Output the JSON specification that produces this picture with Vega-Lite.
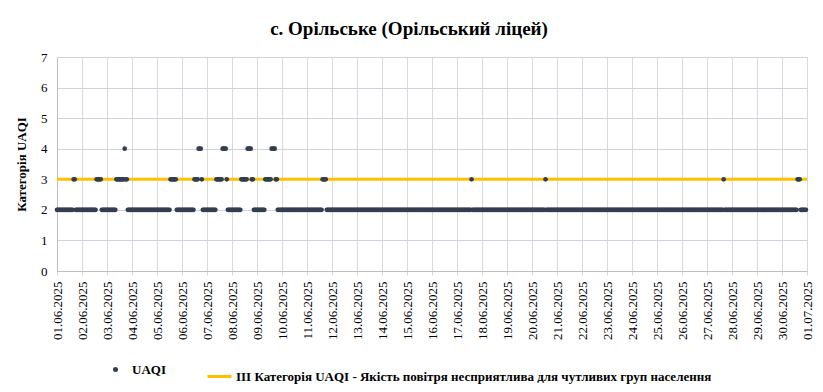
{
"$schema":"https://vega.github.io/schema/vega-lite/v6.json",
"width":750,"height":214,
"autosize":{"type":"none"},
"padding":{"left":57,"top":57,"right":16,"bottom":121},
"background":"#ffffff",
"config":{"view":{"stroke":null},"font":"'Liberation Serif', 'Times New Roman', serif","axis":{"labelFont":"'Liberation Serif', 'Times New Roman', serif","titleFont":"'Liberation Serif', 'Times New Roman', serif"}},
"title":{"text":"с. Орільське (Орільський ліцей)","font":"'Liberation Serif', 'Times New Roman', serif","fontSize":19,"fontWeight":"bold","color":"#000000","anchor":"middle","dx":-23,"offset":12},
"datasets":{
"lim":[{"t":"2025-06-01T00:00","v":3},{"t":"2025-07-01T00:00","v":3}],
"pts":[
{"t":"2025-06-01T00:00","v":2},{"t":"2025-06-01T01:00","v":2},{"t":"2025-06-01T02:00","v":2},{"t":"2025-06-01T03:00","v":2},{"t":"2025-06-01T04:00","v":2},{"t":"2025-06-01T05:00","v":2},{"t":"2025-06-01T06:00","v":2},{"t":"2025-06-01T07:00","v":2},{"t":"2025-06-01T08:00","v":2},{"t":"2025-06-01T09:00","v":2},{"t":"2025-06-01T10:00","v":2},{"t":"2025-06-01T11:00","v":2},{"t":"2025-06-01T12:00","v":2},{"t":"2025-06-01T13:00","v":2},{"t":"2025-06-01T14:00","v":2},{"t":"2025-06-01T15:00","v":2},{"t":"2025-06-01T16:00","v":3},{"t":"2025-06-01T17:00","v":3},{"t":"2025-06-01T18:00","v":2},{"t":"2025-06-01T19:00","v":2},{"t":"2025-06-01T20:00","v":2},{"t":"2025-06-01T21:00","v":2},{"t":"2025-06-01T22:00","v":2},{"t":"2025-06-01T23:00","v":2},
{"t":"2025-06-02T00:00","v":2},{"t":"2025-06-02T01:00","v":2},{"t":"2025-06-02T02:00","v":2},{"t":"2025-06-02T03:00","v":2},{"t":"2025-06-02T04:00","v":2},{"t":"2025-06-02T05:00","v":2},{"t":"2025-06-02T06:00","v":2},{"t":"2025-06-02T07:00","v":2},{"t":"2025-06-02T08:00","v":2},{"t":"2025-06-02T09:00","v":2},{"t":"2025-06-02T10:00","v":2},{"t":"2025-06-02T11:00","v":2},{"t":"2025-06-02T12:00","v":2},{"t":"2025-06-02T13:00","v":2},{"t":"2025-06-02T14:00","v":3},{"t":"2025-06-02T15:00","v":3},{"t":"2025-06-02T16:00","v":3},{"t":"2025-06-02T17:00","v":3},{"t":"2025-06-02T18:00","v":3},{"t":"2025-06-02T19:00","v":2},{"t":"2025-06-02T20:00","v":2},{"t":"2025-06-02T21:00","v":2},{"t":"2025-06-02T22:00","v":2},{"t":"2025-06-02T23:00","v":2},
{"t":"2025-06-03T00:00","v":2},{"t":"2025-06-03T01:00","v":2},{"t":"2025-06-03T02:00","v":2},{"t":"2025-06-03T03:00","v":2},{"t":"2025-06-03T04:00","v":2},{"t":"2025-06-03T05:00","v":2},{"t":"2025-06-03T06:00","v":2},{"t":"2025-06-03T07:00","v":2},{"t":"2025-06-03T08:00","v":2},{"t":"2025-06-03T09:00","v":3},{"t":"2025-06-03T10:00","v":3},{"t":"2025-06-03T11:00","v":3},{"t":"2025-06-03T12:00","v":3},{"t":"2025-06-03T13:00","v":3},{"t":"2025-06-03T14:00","v":3},{"t":"2025-06-03T15:00","v":3},{"t":"2025-06-03T16:00","v":3},{"t":"2025-06-03T17:00","v":4},{"t":"2025-06-03T18:00","v":3},{"t":"2025-06-03T19:00","v":3},{"t":"2025-06-03T20:00","v":2},{"t":"2025-06-03T21:00","v":2},{"t":"2025-06-03T22:00","v":2},{"t":"2025-06-03T23:00","v":2},
{"t":"2025-06-04T00:00","v":2},{"t":"2025-06-04T01:00","v":2},{"t":"2025-06-04T02:00","v":2},{"t":"2025-06-04T03:00","v":2},{"t":"2025-06-04T04:00","v":2},{"t":"2025-06-04T05:00","v":2},{"t":"2025-06-04T06:00","v":2},{"t":"2025-06-04T07:00","v":2},{"t":"2025-06-04T08:00","v":2},{"t":"2025-06-04T09:00","v":2},{"t":"2025-06-04T10:00","v":2},{"t":"2025-06-04T11:00","v":2},{"t":"2025-06-04T12:00","v":2},{"t":"2025-06-04T13:00","v":2},{"t":"2025-06-04T14:00","v":2},{"t":"2025-06-04T15:00","v":2},{"t":"2025-06-04T16:00","v":2},{"t":"2025-06-04T17:00","v":2},{"t":"2025-06-04T18:00","v":2},{"t":"2025-06-04T19:00","v":2},{"t":"2025-06-04T20:00","v":2},{"t":"2025-06-04T21:00","v":2},{"t":"2025-06-04T22:00","v":2},{"t":"2025-06-04T23:00","v":2},
{"t":"2025-06-05T00:00","v":2},{"t":"2025-06-05T01:00","v":2},{"t":"2025-06-05T02:00","v":2},{"t":"2025-06-05T03:00","v":2},{"t":"2025-06-05T04:00","v":2},{"t":"2025-06-05T05:00","v":2},{"t":"2025-06-05T06:00","v":2},{"t":"2025-06-05T07:00","v":2},{"t":"2025-06-05T08:00","v":2},{"t":"2025-06-05T09:00","v":2},{"t":"2025-06-05T10:00","v":2},{"t":"2025-06-05T11:00","v":2},{"t":"2025-06-05T12:00","v":2},{"t":"2025-06-05T13:00","v":3},{"t":"2025-06-05T14:00","v":3},{"t":"2025-06-05T15:00","v":3},{"t":"2025-06-05T16:00","v":3},{"t":"2025-06-05T17:00","v":3},{"t":"2025-06-05T18:00","v":3},{"t":"2025-06-05T19:00","v":2},{"t":"2025-06-05T20:00","v":2},{"t":"2025-06-05T21:00","v":2},{"t":"2025-06-05T22:00","v":2},{"t":"2025-06-05T23:00","v":2},
{"t":"2025-06-06T00:00","v":2},{"t":"2025-06-06T01:00","v":2},{"t":"2025-06-06T02:00","v":2},{"t":"2025-06-06T03:00","v":2},{"t":"2025-06-06T04:00","v":2},{"t":"2025-06-06T05:00","v":2},{"t":"2025-06-06T06:00","v":2},{"t":"2025-06-06T07:00","v":2},{"t":"2025-06-06T08:00","v":2},{"t":"2025-06-06T09:00","v":2},{"t":"2025-06-06T10:00","v":2},{"t":"2025-06-06T11:00","v":2},{"t":"2025-06-06T12:00","v":3},{"t":"2025-06-06T13:00","v":3},{"t":"2025-06-06T14:00","v":3},{"t":"2025-06-06T15:00","v":3},{"t":"2025-06-06T16:00","v":4},{"t":"2025-06-06T17:00","v":4},{"t":"2025-06-06T18:00","v":4},{"t":"2025-06-06T19:00","v":3},{"t":"2025-06-06T20:00","v":2},{"t":"2025-06-06T21:00","v":2},{"t":"2025-06-06T22:00","v":2},{"t":"2025-06-06T23:00","v":2},
{"t":"2025-06-07T00:00","v":2},{"t":"2025-06-07T01:00","v":2},{"t":"2025-06-07T02:00","v":2},{"t":"2025-06-07T03:00","v":2},{"t":"2025-06-07T04:00","v":2},{"t":"2025-06-07T05:00","v":2},{"t":"2025-06-07T06:00","v":2},{"t":"2025-06-07T07:00","v":2},{"t":"2025-06-07T08:00","v":2},{"t":"2025-06-07T09:00","v":3},{"t":"2025-06-07T10:00","v":3},{"t":"2025-06-07T11:00","v":3},{"t":"2025-06-07T12:00","v":3},{"t":"2025-06-07T13:00","v":3},{"t":"2025-06-07T14:00","v":3},{"t":"2025-06-07T15:00","v":4},{"t":"2025-06-07T16:00","v":4},{"t":"2025-06-07T17:00","v":4},{"t":"2025-06-07T18:00","v":4},{"t":"2025-06-07T19:00","v":3},{"t":"2025-06-07T20:00","v":2},{"t":"2025-06-07T21:00","v":2},{"t":"2025-06-07T22:00","v":2},{"t":"2025-06-07T23:00","v":2},
{"t":"2025-06-08T00:00","v":2},{"t":"2025-06-08T01:00","v":2},{"t":"2025-06-08T02:00","v":2},{"t":"2025-06-08T03:00","v":2},{"t":"2025-06-08T04:00","v":2},{"t":"2025-06-08T05:00","v":2},{"t":"2025-06-08T06:00","v":2},{"t":"2025-06-08T07:00","v":2},{"t":"2025-06-08T08:00","v":2},{"t":"2025-06-08T09:00","v":3},{"t":"2025-06-08T10:00","v":3},{"t":"2025-06-08T11:00","v":3},{"t":"2025-06-08T12:00","v":3},{"t":"2025-06-08T13:00","v":3},{"t":"2025-06-08T14:00","v":3},{"t":"2025-06-08T15:00","v":4},{"t":"2025-06-08T16:00","v":4},{"t":"2025-06-08T17:00","v":4},{"t":"2025-06-08T18:00","v":4},{"t":"2025-06-08T19:00","v":3},{"t":"2025-06-08T20:00","v":3},{"t":"2025-06-08T21:00","v":2},{"t":"2025-06-08T22:00","v":2},{"t":"2025-06-08T23:00","v":2},
{"t":"2025-06-09T00:00","v":2},{"t":"2025-06-09T01:00","v":2},{"t":"2025-06-09T02:00","v":2},{"t":"2025-06-09T03:00","v":2},{"t":"2025-06-09T04:00","v":2},{"t":"2025-06-09T05:00","v":2},{"t":"2025-06-09T06:00","v":2},{"t":"2025-06-09T07:00","v":2},{"t":"2025-06-09T08:00","v":3},{"t":"2025-06-09T09:00","v":3},{"t":"2025-06-09T10:00","v":3},{"t":"2025-06-09T11:00","v":3},{"t":"2025-06-09T12:00","v":3},{"t":"2025-06-09T13:00","v":3},{"t":"2025-06-09T14:00","v":4},{"t":"2025-06-09T15:00","v":4},{"t":"2025-06-09T16:00","v":4},{"t":"2025-06-09T17:00","v":4},{"t":"2025-06-09T18:00","v":3},{"t":"2025-06-09T19:00","v":3},{"t":"2025-06-09T20:00","v":2},{"t":"2025-06-09T21:00","v":2},{"t":"2025-06-09T22:00","v":2},{"t":"2025-06-09T23:00","v":2},
{"t":"2025-06-10T00:00","v":2},{"t":"2025-06-10T01:00","v":2},{"t":"2025-06-10T02:00","v":2},{"t":"2025-06-10T03:00","v":2},{"t":"2025-06-10T04:00","v":2},{"t":"2025-06-10T05:00","v":2},{"t":"2025-06-10T06:00","v":2},{"t":"2025-06-10T07:00","v":2},{"t":"2025-06-10T08:00","v":2},{"t":"2025-06-10T09:00","v":2},{"t":"2025-06-10T10:00","v":2},{"t":"2025-06-10T11:00","v":2},{"t":"2025-06-10T12:00","v":2},{"t":"2025-06-10T13:00","v":2},{"t":"2025-06-10T14:00","v":2},{"t":"2025-06-10T15:00","v":2},{"t":"2025-06-10T16:00","v":2},{"t":"2025-06-10T17:00","v":2},{"t":"2025-06-10T18:00","v":2},{"t":"2025-06-10T19:00","v":2},{"t":"2025-06-10T20:00","v":2},{"t":"2025-06-10T21:00","v":2},{"t":"2025-06-10T22:00","v":2},{"t":"2025-06-10T23:00","v":2},
{"t":"2025-06-11T00:00","v":2},{"t":"2025-06-11T01:00","v":2},{"t":"2025-06-11T02:00","v":2},{"t":"2025-06-11T03:00","v":2},{"t":"2025-06-11T04:00","v":2},{"t":"2025-06-11T05:00","v":2},{"t":"2025-06-11T06:00","v":2},{"t":"2025-06-11T07:00","v":2},{"t":"2025-06-11T08:00","v":2},{"t":"2025-06-11T09:00","v":2},{"t":"2025-06-11T10:00","v":2},{"t":"2025-06-11T11:00","v":2},{"t":"2025-06-11T12:00","v":2},{"t":"2025-06-11T13:00","v":2},{"t":"2025-06-11T14:00","v":2},{"t":"2025-06-11T15:00","v":3},{"t":"2025-06-11T16:00","v":3},{"t":"2025-06-11T17:00","v":3},{"t":"2025-06-11T18:00","v":3},{"t":"2025-06-11T19:00","v":2},{"t":"2025-06-11T20:00","v":2},{"t":"2025-06-11T21:00","v":2},{"t":"2025-06-11T22:00","v":2},{"t":"2025-06-11T23:00","v":2},
{"t":"2025-06-12T00:00","v":2},{"t":"2025-06-12T01:00","v":2},{"t":"2025-06-12T02:00","v":2},{"t":"2025-06-12T03:00","v":2},{"t":"2025-06-12T04:00","v":2},{"t":"2025-06-12T05:00","v":2},{"t":"2025-06-12T06:00","v":2},{"t":"2025-06-12T07:00","v":2},{"t":"2025-06-12T08:00","v":2},{"t":"2025-06-12T09:00","v":2},{"t":"2025-06-12T10:00","v":2},{"t":"2025-06-12T11:00","v":2},{"t":"2025-06-12T12:00","v":2},{"t":"2025-06-12T13:00","v":2},{"t":"2025-06-12T14:00","v":2},{"t":"2025-06-12T15:00","v":2},{"t":"2025-06-12T16:00","v":2},{"t":"2025-06-12T17:00","v":2},{"t":"2025-06-12T18:00","v":2},{"t":"2025-06-12T19:00","v":2},{"t":"2025-06-12T20:00","v":2},{"t":"2025-06-12T21:00","v":2},{"t":"2025-06-12T22:00","v":2},{"t":"2025-06-12T23:00","v":2},
{"t":"2025-06-13T00:00","v":2},{"t":"2025-06-13T01:00","v":2},{"t":"2025-06-13T02:00","v":2},{"t":"2025-06-13T03:00","v":2},{"t":"2025-06-13T04:00","v":2},{"t":"2025-06-13T05:00","v":2},{"t":"2025-06-13T06:00","v":2},{"t":"2025-06-13T07:00","v":2},{"t":"2025-06-13T08:00","v":2},{"t":"2025-06-13T09:00","v":2},{"t":"2025-06-13T10:00","v":2},{"t":"2025-06-13T11:00","v":2},{"t":"2025-06-13T12:00","v":2},{"t":"2025-06-13T13:00","v":2},{"t":"2025-06-13T14:00","v":2},{"t":"2025-06-13T15:00","v":2},{"t":"2025-06-13T16:00","v":2},{"t":"2025-06-13T17:00","v":2},{"t":"2025-06-13T18:00","v":2},{"t":"2025-06-13T19:00","v":2},{"t":"2025-06-13T20:00","v":2},{"t":"2025-06-13T21:00","v":2},{"t":"2025-06-13T22:00","v":2},{"t":"2025-06-13T23:00","v":2},
{"t":"2025-06-14T00:00","v":2},{"t":"2025-06-14T01:00","v":2},{"t":"2025-06-14T02:00","v":2},{"t":"2025-06-14T03:00","v":2},{"t":"2025-06-14T04:00","v":2},{"t":"2025-06-14T05:00","v":2},{"t":"2025-06-14T06:00","v":2},{"t":"2025-06-14T07:00","v":2},{"t":"2025-06-14T08:00","v":2},{"t":"2025-06-14T09:00","v":2},{"t":"2025-06-14T10:00","v":2},{"t":"2025-06-14T11:00","v":2},{"t":"2025-06-14T12:00","v":2},{"t":"2025-06-14T13:00","v":2},{"t":"2025-06-14T14:00","v":2},{"t":"2025-06-14T15:00","v":2},{"t":"2025-06-14T16:00","v":2},{"t":"2025-06-14T17:00","v":2},{"t":"2025-06-14T18:00","v":2},{"t":"2025-06-14T19:00","v":2},{"t":"2025-06-14T20:00","v":2},{"t":"2025-06-14T21:00","v":2},{"t":"2025-06-14T22:00","v":2},{"t":"2025-06-14T23:00","v":2},
{"t":"2025-06-15T00:00","v":2},{"t":"2025-06-15T01:00","v":2},{"t":"2025-06-15T02:00","v":2},{"t":"2025-06-15T03:00","v":2},{"t":"2025-06-15T04:00","v":2},{"t":"2025-06-15T05:00","v":2},{"t":"2025-06-15T06:00","v":2},{"t":"2025-06-15T07:00","v":2},{"t":"2025-06-15T08:00","v":2},{"t":"2025-06-15T09:00","v":2},{"t":"2025-06-15T10:00","v":2},{"t":"2025-06-15T11:00","v":2},{"t":"2025-06-15T12:00","v":2},{"t":"2025-06-15T13:00","v":2},{"t":"2025-06-15T14:00","v":2},{"t":"2025-06-15T15:00","v":2},{"t":"2025-06-15T16:00","v":2},{"t":"2025-06-15T17:00","v":2},{"t":"2025-06-15T18:00","v":2},{"t":"2025-06-15T19:00","v":2},{"t":"2025-06-15T20:00","v":2},{"t":"2025-06-15T21:00","v":2},{"t":"2025-06-15T22:00","v":2},{"t":"2025-06-15T23:00","v":2},
{"t":"2025-06-16T00:00","v":2},{"t":"2025-06-16T01:00","v":2},{"t":"2025-06-16T02:00","v":2},{"t":"2025-06-16T03:00","v":2},{"t":"2025-06-16T04:00","v":2},{"t":"2025-06-16T05:00","v":2},{"t":"2025-06-16T06:00","v":2},{"t":"2025-06-16T07:00","v":2},{"t":"2025-06-16T08:00","v":2},{"t":"2025-06-16T09:00","v":2},{"t":"2025-06-16T10:00","v":2},{"t":"2025-06-16T11:00","v":2},{"t":"2025-06-16T12:00","v":2},{"t":"2025-06-16T13:00","v":2},{"t":"2025-06-16T14:00","v":2},{"t":"2025-06-16T15:00","v":2},{"t":"2025-06-16T16:00","v":2},{"t":"2025-06-16T17:00","v":2},{"t":"2025-06-16T18:00","v":2},{"t":"2025-06-16T19:00","v":2},{"t":"2025-06-16T20:00","v":2},{"t":"2025-06-16T21:00","v":2},{"t":"2025-06-16T22:00","v":2},{"t":"2025-06-16T23:00","v":2},
{"t":"2025-06-17T00:00","v":2},{"t":"2025-06-17T01:00","v":2},{"t":"2025-06-17T02:00","v":2},{"t":"2025-06-17T03:00","v":2},{"t":"2025-06-17T04:00","v":2},{"t":"2025-06-17T05:00","v":2},{"t":"2025-06-17T06:00","v":2},{"t":"2025-06-17T07:00","v":2},{"t":"2025-06-17T08:00","v":2},{"t":"2025-06-17T09:00","v":2},{"t":"2025-06-17T10:00","v":2},{"t":"2025-06-17T11:00","v":2},{"t":"2025-06-17T12:00","v":2},{"t":"2025-06-17T13:00","v":2},{"t":"2025-06-17T14:00","v":3},{"t":"2025-06-17T15:00","v":2},{"t":"2025-06-17T16:00","v":2},{"t":"2025-06-17T17:00","v":2},{"t":"2025-06-17T18:00","v":2},{"t":"2025-06-17T19:00","v":2},{"t":"2025-06-17T20:00","v":2},{"t":"2025-06-17T21:00","v":2},{"t":"2025-06-17T22:00","v":2},{"t":"2025-06-17T23:00","v":2},
{"t":"2025-06-18T00:00","v":2},{"t":"2025-06-18T01:00","v":2},{"t":"2025-06-18T02:00","v":2},{"t":"2025-06-18T03:00","v":2},{"t":"2025-06-18T04:00","v":2},{"t":"2025-06-18T05:00","v":2},{"t":"2025-06-18T06:00","v":2},{"t":"2025-06-18T07:00","v":2},{"t":"2025-06-18T08:00","v":2},{"t":"2025-06-18T09:00","v":2},{"t":"2025-06-18T10:00","v":2},{"t":"2025-06-18T11:00","v":2},{"t":"2025-06-18T12:00","v":2},{"t":"2025-06-18T13:00","v":2},{"t":"2025-06-18T14:00","v":2},{"t":"2025-06-18T15:00","v":2},{"t":"2025-06-18T16:00","v":2},{"t":"2025-06-18T17:00","v":2},{"t":"2025-06-18T18:00","v":2},{"t":"2025-06-18T19:00","v":2},{"t":"2025-06-18T20:00","v":2},{"t":"2025-06-18T21:00","v":2},{"t":"2025-06-18T22:00","v":2},{"t":"2025-06-18T23:00","v":2},
{"t":"2025-06-19T00:00","v":2},{"t":"2025-06-19T01:00","v":2},{"t":"2025-06-19T02:00","v":2},{"t":"2025-06-19T03:00","v":2},{"t":"2025-06-19T04:00","v":2},{"t":"2025-06-19T05:00","v":2},{"t":"2025-06-19T06:00","v":2},{"t":"2025-06-19T07:00","v":2},{"t":"2025-06-19T08:00","v":2},{"t":"2025-06-19T09:00","v":2},{"t":"2025-06-19T10:00","v":2},{"t":"2025-06-19T11:00","v":2},{"t":"2025-06-19T12:00","v":2},{"t":"2025-06-19T13:00","v":2},{"t":"2025-06-19T14:00","v":2},{"t":"2025-06-19T15:00","v":2},{"t":"2025-06-19T16:00","v":2},{"t":"2025-06-19T17:00","v":2},{"t":"2025-06-19T18:00","v":2},{"t":"2025-06-19T19:00","v":2},{"t":"2025-06-19T20:00","v":2},{"t":"2025-06-19T21:00","v":2},{"t":"2025-06-19T22:00","v":2},{"t":"2025-06-19T23:00","v":2},
{"t":"2025-06-20T00:00","v":2},{"t":"2025-06-20T01:00","v":2},{"t":"2025-06-20T02:00","v":2},{"t":"2025-06-20T03:00","v":2},{"t":"2025-06-20T04:00","v":2},{"t":"2025-06-20T05:00","v":2},{"t":"2025-06-20T06:00","v":2},{"t":"2025-06-20T07:00","v":2},{"t":"2025-06-20T08:00","v":2},{"t":"2025-06-20T09:00","v":2},{"t":"2025-06-20T10:00","v":2},{"t":"2025-06-20T11:00","v":2},{"t":"2025-06-20T12:00","v":2},{"t":"2025-06-20T13:00","v":3},{"t":"2025-06-20T14:00","v":2},{"t":"2025-06-20T15:00","v":2},{"t":"2025-06-20T16:00","v":2},{"t":"2025-06-20T17:00","v":2},{"t":"2025-06-20T18:00","v":2},{"t":"2025-06-20T19:00","v":2},{"t":"2025-06-20T20:00","v":2},{"t":"2025-06-20T21:00","v":2},{"t":"2025-06-20T22:00","v":2},{"t":"2025-06-20T23:00","v":2},
{"t":"2025-06-21T00:00","v":2},{"t":"2025-06-21T01:00","v":2},{"t":"2025-06-21T02:00","v":2},{"t":"2025-06-21T03:00","v":2},{"t":"2025-06-21T04:00","v":2},{"t":"2025-06-21T05:00","v":2},{"t":"2025-06-21T06:00","v":2},{"t":"2025-06-21T07:00","v":2},{"t":"2025-06-21T08:00","v":2},{"t":"2025-06-21T09:00","v":2},{"t":"2025-06-21T10:00","v":2},{"t":"2025-06-21T11:00","v":2},{"t":"2025-06-21T12:00","v":2},{"t":"2025-06-21T13:00","v":2},{"t":"2025-06-21T14:00","v":2},{"t":"2025-06-21T15:00","v":2},{"t":"2025-06-21T16:00","v":2},{"t":"2025-06-21T17:00","v":2},{"t":"2025-06-21T18:00","v":2},{"t":"2025-06-21T19:00","v":2},{"t":"2025-06-21T20:00","v":2},{"t":"2025-06-21T21:00","v":2},{"t":"2025-06-21T22:00","v":2},{"t":"2025-06-21T23:00","v":2},
{"t":"2025-06-22T00:00","v":2},{"t":"2025-06-22T01:00","v":2},{"t":"2025-06-22T02:00","v":2},{"t":"2025-06-22T03:00","v":2},{"t":"2025-06-22T04:00","v":2},{"t":"2025-06-22T05:00","v":2},{"t":"2025-06-22T06:00","v":2},{"t":"2025-06-22T07:00","v":2},{"t":"2025-06-22T08:00","v":2},{"t":"2025-06-22T09:00","v":2},{"t":"2025-06-22T10:00","v":2},{"t":"2025-06-22T11:00","v":2},{"t":"2025-06-22T12:00","v":2},{"t":"2025-06-22T13:00","v":2},{"t":"2025-06-22T14:00","v":2},{"t":"2025-06-22T15:00","v":2},{"t":"2025-06-22T16:00","v":2},{"t":"2025-06-22T17:00","v":2},{"t":"2025-06-22T18:00","v":2},{"t":"2025-06-22T19:00","v":2},{"t":"2025-06-22T20:00","v":2},{"t":"2025-06-22T21:00","v":2},{"t":"2025-06-22T22:00","v":2},{"t":"2025-06-22T23:00","v":2},
{"t":"2025-06-23T00:00","v":2},{"t":"2025-06-23T01:00","v":2},{"t":"2025-06-23T02:00","v":2},{"t":"2025-06-23T03:00","v":2},{"t":"2025-06-23T04:00","v":2},{"t":"2025-06-23T05:00","v":2},{"t":"2025-06-23T06:00","v":2},{"t":"2025-06-23T07:00","v":2},{"t":"2025-06-23T08:00","v":2},{"t":"2025-06-23T09:00","v":2},{"t":"2025-06-23T10:00","v":2},{"t":"2025-06-23T11:00","v":2},{"t":"2025-06-23T12:00","v":2},{"t":"2025-06-23T13:00","v":2},{"t":"2025-06-23T14:00","v":2},{"t":"2025-06-23T15:00","v":2},{"t":"2025-06-23T16:00","v":2},{"t":"2025-06-23T17:00","v":2},{"t":"2025-06-23T18:00","v":2},{"t":"2025-06-23T19:00","v":2},{"t":"2025-06-23T20:00","v":2},{"t":"2025-06-23T21:00","v":2},{"t":"2025-06-23T22:00","v":2},{"t":"2025-06-23T23:00","v":2},
{"t":"2025-06-24T00:00","v":2},{"t":"2025-06-24T01:00","v":2},{"t":"2025-06-24T02:00","v":2},{"t":"2025-06-24T03:00","v":2},{"t":"2025-06-24T04:00","v":2},{"t":"2025-06-24T05:00","v":2},{"t":"2025-06-24T06:00","v":2},{"t":"2025-06-24T07:00","v":2},{"t":"2025-06-24T08:00","v":2},{"t":"2025-06-24T09:00","v":2},{"t":"2025-06-24T10:00","v":2},{"t":"2025-06-24T11:00","v":2},{"t":"2025-06-24T12:00","v":2},{"t":"2025-06-24T13:00","v":2},{"t":"2025-06-24T14:00","v":2},{"t":"2025-06-24T15:00","v":2},{"t":"2025-06-24T16:00","v":2},{"t":"2025-06-24T17:00","v":2},{"t":"2025-06-24T18:00","v":2},{"t":"2025-06-24T19:00","v":2},{"t":"2025-06-24T20:00","v":2},{"t":"2025-06-24T21:00","v":2},{"t":"2025-06-24T22:00","v":2},{"t":"2025-06-24T23:00","v":2},
{"t":"2025-06-25T00:00","v":2},{"t":"2025-06-25T01:00","v":2},{"t":"2025-06-25T02:00","v":2},{"t":"2025-06-25T03:00","v":2},{"t":"2025-06-25T04:00","v":2},{"t":"2025-06-25T05:00","v":2},{"t":"2025-06-25T06:00","v":2},{"t":"2025-06-25T07:00","v":2},{"t":"2025-06-25T08:00","v":2},{"t":"2025-06-25T09:00","v":2},{"t":"2025-06-25T10:00","v":2},{"t":"2025-06-25T11:00","v":2},{"t":"2025-06-25T12:00","v":2},{"t":"2025-06-25T13:00","v":2},{"t":"2025-06-25T14:00","v":2},{"t":"2025-06-25T15:00","v":2},{"t":"2025-06-25T16:00","v":2},{"t":"2025-06-25T17:00","v":2},{"t":"2025-06-25T18:00","v":2},{"t":"2025-06-25T19:00","v":2},{"t":"2025-06-25T20:00","v":2},{"t":"2025-06-25T21:00","v":2},{"t":"2025-06-25T22:00","v":2},{"t":"2025-06-25T23:00","v":2},
{"t":"2025-06-26T00:00","v":2},{"t":"2025-06-26T01:00","v":2},{"t":"2025-06-26T02:00","v":2},{"t":"2025-06-26T03:00","v":2},{"t":"2025-06-26T04:00","v":2},{"t":"2025-06-26T05:00","v":2},{"t":"2025-06-26T06:00","v":2},{"t":"2025-06-26T07:00","v":2},{"t":"2025-06-26T08:00","v":2},{"t":"2025-06-26T09:00","v":2},{"t":"2025-06-26T10:00","v":2},{"t":"2025-06-26T11:00","v":2},{"t":"2025-06-26T12:00","v":2},{"t":"2025-06-26T13:00","v":2},{"t":"2025-06-26T14:00","v":2},{"t":"2025-06-26T15:00","v":2},{"t":"2025-06-26T16:00","v":2},{"t":"2025-06-26T17:00","v":2},{"t":"2025-06-26T18:00","v":2},{"t":"2025-06-26T19:00","v":2},{"t":"2025-06-26T20:00","v":2},{"t":"2025-06-26T21:00","v":2},{"t":"2025-06-26T22:00","v":2},{"t":"2025-06-26T23:00","v":2},
{"t":"2025-06-27T00:00","v":2},{"t":"2025-06-27T01:00","v":2},{"t":"2025-06-27T02:00","v":2},{"t":"2025-06-27T03:00","v":2},{"t":"2025-06-27T04:00","v":2},{"t":"2025-06-27T05:00","v":2},{"t":"2025-06-27T06:00","v":2},{"t":"2025-06-27T07:00","v":2},{"t":"2025-06-27T08:00","v":2},{"t":"2025-06-27T09:00","v":2},{"t":"2025-06-27T10:00","v":2},{"t":"2025-06-27T11:00","v":2},{"t":"2025-06-27T12:00","v":2},{"t":"2025-06-27T13:00","v":2},{"t":"2025-06-27T14:00","v":2},{"t":"2025-06-27T15:00","v":2},{"t":"2025-06-27T16:00","v":3},{"t":"2025-06-27T17:00","v":2},{"t":"2025-06-27T18:00","v":2},{"t":"2025-06-27T19:00","v":2},{"t":"2025-06-27T20:00","v":2},{"t":"2025-06-27T21:00","v":2},{"t":"2025-06-27T22:00","v":2},{"t":"2025-06-27T23:00","v":2},
{"t":"2025-06-28T00:00","v":2},{"t":"2025-06-28T01:00","v":2},{"t":"2025-06-28T02:00","v":2},{"t":"2025-06-28T03:00","v":2},{"t":"2025-06-28T04:00","v":2},{"t":"2025-06-28T05:00","v":2},{"t":"2025-06-28T06:00","v":2},{"t":"2025-06-28T07:00","v":2},{"t":"2025-06-28T08:00","v":2},{"t":"2025-06-28T09:00","v":2},{"t":"2025-06-28T10:00","v":2},{"t":"2025-06-28T11:00","v":2},{"t":"2025-06-28T12:00","v":2},{"t":"2025-06-28T13:00","v":2},{"t":"2025-06-28T14:00","v":2},{"t":"2025-06-28T15:00","v":2},{"t":"2025-06-28T16:00","v":2},{"t":"2025-06-28T17:00","v":2},{"t":"2025-06-28T18:00","v":2},{"t":"2025-06-28T19:00","v":2},{"t":"2025-06-28T20:00","v":2},{"t":"2025-06-28T21:00","v":2},{"t":"2025-06-28T22:00","v":2},{"t":"2025-06-28T23:00","v":2},
{"t":"2025-06-29T00:00","v":2},{"t":"2025-06-29T01:00","v":2},{"t":"2025-06-29T02:00","v":2},{"t":"2025-06-29T03:00","v":2},{"t":"2025-06-29T04:00","v":2},{"t":"2025-06-29T05:00","v":2},{"t":"2025-06-29T06:00","v":2},{"t":"2025-06-29T07:00","v":2},{"t":"2025-06-29T08:00","v":2},{"t":"2025-06-29T09:00","v":2},{"t":"2025-06-29T10:00","v":2},{"t":"2025-06-29T11:00","v":2},{"t":"2025-06-29T12:00","v":2},{"t":"2025-06-29T13:00","v":2},{"t":"2025-06-29T14:00","v":2},{"t":"2025-06-29T15:00","v":2},{"t":"2025-06-29T16:00","v":2},{"t":"2025-06-29T17:00","v":2},{"t":"2025-06-29T18:00","v":2},{"t":"2025-06-29T19:00","v":2},{"t":"2025-06-29T20:00","v":2},{"t":"2025-06-29T21:00","v":2},{"t":"2025-06-29T22:00","v":2},{"t":"2025-06-29T23:00","v":2},
{"t":"2025-06-30T00:00","v":2},{"t":"2025-06-30T01:00","v":2},{"t":"2025-06-30T02:00","v":2},{"t":"2025-06-30T03:00","v":2},{"t":"2025-06-30T04:00","v":2},{"t":"2025-06-30T05:00","v":2},{"t":"2025-06-30T06:00","v":2},{"t":"2025-06-30T07:00","v":2},{"t":"2025-06-30T08:00","v":2},{"t":"2025-06-30T09:00","v":2},{"t":"2025-06-30T10:00","v":2},{"t":"2025-06-30T11:00","v":2},{"t":"2025-06-30T12:00","v":2},{"t":"2025-06-30T13:00","v":2},{"t":"2025-06-30T14:00","v":2},{"t":"2025-06-30T15:00","v":3},{"t":"2025-06-30T16:00","v":3},{"t":"2025-06-30T17:00","v":3},{"t":"2025-06-30T18:00","v":2},{"t":"2025-06-30T19:00","v":2},{"t":"2025-06-30T20:00","v":2},{"t":"2025-06-30T21:00","v":2},{"t":"2025-06-30T22:00","v":2},{"t":"2025-06-30T23:00","v":2}
]},
"encoding":{
"x":{"field":"t","type":"temporal",
"scale":{"domain":[{"year":2025,"month":6,"date":1},{"year":2025,"month":7,"date":1}]},
"axis":{"title":null,"format":"%d.%m.%Y","labelAngle":-90,"tickCount":{"interval":"day","step":1},"labelFont":"'Liberation Serif', 'Times New Roman', serif","labelFontSize":13,"labelColor":"#000000","gridColor":"#D9D9D9","tickColor":"#D9D9D9","tickSize":4,"labelPadding":6,"domainColor":"#BFBFBF","labelOverlap":false,"labelFlush":false,"labelBound":false}},
"y":{"field":"v","type":"quantitative",
"scale":{"domain":[0,7],"nice":false,"zero":true},
"axis":{"values":[0,1,2,3,4,5,6,7],"title":"Категорія UAQI","titleFont":"'Liberation Serif', 'Times New Roman', serif","titleFontSize":13,"titleFontWeight":"bold","titleColor":"#000000","titlePadding":12,"labelFont":"'Liberation Serif', 'Times New Roman', serif","labelFontSize":13,"labelColor":"#000000","ticks":false,"labelPadding":10,"gridColor":"#CBD2E0","domainColor":"#BFBFBF"}}
},
"layer":[
{"data":{"name":"lim"},
"mark":{"type":"line","strokeWidth":3},
"encoding":{"stroke":{"datum":"ІІІ Категорія  UAQI  - Якість  повітря  несприятлива   для чутливих  груп  населення","scale":{"range":["#FFC000"]},
"legend":{"title":null,"orient":"none","legendX":149,"legendY":306,"symbolType":"stroke","symbolSize":576,"symbolStrokeWidth":3,"labelFont":"'Liberation Serif', 'Times New Roman', serif","labelFontSize":13,"labelFontWeight":"bold","labelColor":"#000000","labelOffset":3,"labelLimit":700}}}},
{"data":{"name":"pts"},
"mark":{"type":"circle","size":22,"opacity":1},
"encoding":{"fill":{"datum":"UAQI","scale":{"range":["#333F50"]},
"legend":{"title":null,"orient":"none","legendX":52,"legendY":306,"symbolType":"circle","symbolSize":25,"symbolOpacity":1,"labelFont":"'Liberation Serif', 'Times New Roman', serif","labelFontSize":13,"labelFontWeight":"bold","labelColor":"#000000","labelOffset":10}}}}
]
}
